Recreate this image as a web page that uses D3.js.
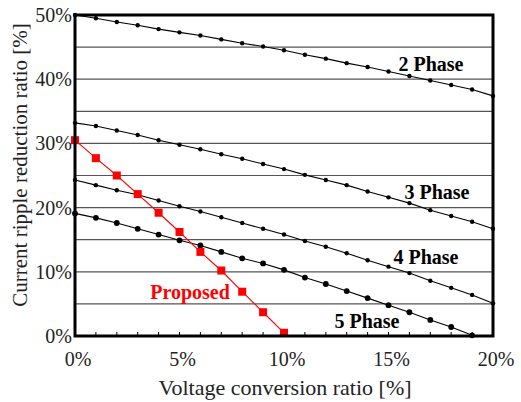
<!DOCTYPE html>
<html>
<head>
<meta charset="utf-8">
<script src="https://cdn.jsdelivr.net/npm/d3@7"></script>
<style>
  body { margin: 0; background: #fff; }
</style>
</head>
<body>
<div id="chart"></div>
<script>
const FWIDTH = 521,
    FHEIGHT = 402;
const FONT = "'Liberation Serif', 'DejaVu Serif', serif";

// voltage conversion ratio [%]
const ratio = [0, 1, 2, 3, 4, 5, 6, 7, 8, 9, 10, 11, 12, 13, 14, 15, 16, 17, 18, 19, 20];

// current ripple reduction ratio [%]
const phase2 = [50.0, 49.5, 48.9, 48.4, 47.8, 47.3, 46.8, 46.2, 45.6, 45.1, 44.5,
    43.8, 43.2, 42.5, 41.9, 41.2, 40.5, 39.8, 39.1, 38.4, 37.4];
const phase3 = [33.2, 32.7, 32.0, 31.3, 30.5, 29.8, 29.1, 28.3, 27.6, 26.8, 26.0,
    25.1, 24.3, 23.5, 22.5, 21.6, 20.7, 19.6, 18.7, 17.8, 16.7];
const phase4 = [24.3, 23.5, 22.7, 22.0, 21.1, 20.2, 19.4, 18.5, 17.6, 16.7, 15.8,
    14.8, 13.9, 12.9, 11.8, 10.8, 9.8, 8.6, 7.5, 6.4, 5.1];
const phase5 = [19.1, 18.4, 17.6, 16.7, 15.8, 14.9, 14.1, 13.1, 12.1, 11.3, 10.3,
    9.1, 8.1, 7.0, 5.9, 4.8, 3.7, 2.5, 1.4, 0.1];
const proposed = [30.5, 27.7, 25.0, 22.1, 19.2, 16.2, 13.1, 10.2, 6.9, 3.7, 0.5];

const xTicks = [0, 5, 10, 15, 20];
const yTicks = [0, 10, 20, 30, 40, 50];
const yGrid = [5, 10, 15, 20, 25, 30, 35, 40, 45];

const x = d3.scaleLinear().domain([0, 20]).range([75, 493]);
const y = d3.scaleLinear().domain([0, 50]).range([336, 15]);

const svg = d3.select("#chart")
    .append("svg")
    .attr("width", FWIDTH)
    .attr("height", FHEIGHT)
    .attr("font-family", FONT);

// grid
svg.append("g")
    .selectAll("line")
    .data(yGrid)
    .join("line")
    .attr("x1", x(0))
    .attr("x2", x(20))
    .attr("y1", d => y(d))
    .attr("y2", d => y(d))
    .attr("stroke", "#555")
    .attr("stroke-width", 1.2);

// minor ticks along the bottom, every 1%
svg.append("g")
    .selectAll("line")
    .data(ratio)
    .join("line")
    .attr("x1", d => x(d))
    .attr("x2", d => x(d))
    .attr("y1", y(0))
    .attr("y2", y(0) - 4)
    .attr("stroke", "#000")
    .attr("stroke-width", 1);

const line = d3.line()
    .x((d, i) => x(ratio[i]))
    .y(d => y(d));

const series = [
    { vals: phase2, r: 2.2 },
    { vals: phase3, r: 2.2 },
    { vals: phase4, r: 2.2 },
    { vals: phase5, r: 2.9 }
];

series.forEach(s => {
    svg.append("path")
        .datum(s.vals)
        .attr("d", line)
        .attr("fill", "none")
        .attr("stroke", "#000")
        .attr("stroke-width", 1.1);
    svg.append("g")
        .selectAll("circle")
        .data(s.vals)
        .join("circle")
        .attr("cx", (d, i) => x(ratio[i]))
        .attr("cy", d => y(d))
        .attr("r", s.r)
        .attr("fill", "#000");
});

// proposed
svg.append("path")
    .datum(proposed)
    .attr("d", line)
    .attr("fill", "none")
    .attr("stroke", "#ff0000")
    .attr("stroke-width", 1.1);

svg.append("g")
    .selectAll("rect")
    .data(proposed)
    .join("rect")
    .attr("x", (d, i) => x(ratio[i]) - 4)
    .attr("y", d => y(d) - 4)
    .attr("width", 8)
    .attr("height", 8)
    .attr("fill", "#ff0000");

// frame
svg.append("rect")
    .attr("x", x(0))
    .attr("y", y(50))
    .attr("width", x(20) - x(0))
    .attr("height", y(0) - y(50))
    .attr("fill", "none")
    .attr("stroke", "#000")
    .attr("stroke-width", 3);

// tick labels
svg.append("g")
    .selectAll("text")
    .data(yTicks)
    .join("text")
    .text(d => d + "%")
    .attr("x", 72)
    .attr("y", d => y(d) + 7)
    .attr("text-anchor", "end")
    .attr("font-size", "20px")
    .attr("fill", "#222");

svg.append("g")
    .selectAll("text")
    .data(xTicks)
    .join("text")
    .text(d => d + "%")
    .attr("x", d => x(d) + 3)
    .attr("y", 366)
    .attr("text-anchor", "middle")
    .attr("font-size", "20px")
    .attr("fill", "#222");

// axis titles
svg.append("text")
    .text("Voltage conversion ratio [%]")
    .attr("x", 285)
    .attr("y", 395)
    .attr("text-anchor", "middle")
    .attr("font-size", "22px")
    .attr("fill", "#222");

svg.append("text")
    .text("Current ripple reduction ratio [%]")
    .attr("transform", "translate(27,165) rotate(-90)")
    .attr("text-anchor", "middle")
    .attr("font-size", "21px")
    .attr("fill", "#222");

// series labels
const labels = [
    { t: "2 Phase", x: 431, y: 71, c: "#000" },
    { t: "3 Phase", x: 437, y: 199, c: "#000" },
    { t: "4 Phase", x: 426, y: 264, c: "#000" },
    { t: "5 Phase", x: 367, y: 328, c: "#000" },
    { t: "Proposed", x: 190, y: 299, c: "#ff0000" }
];

svg.append("g")
    .selectAll("text")
    .data(labels)
    .join("text")
    .text(d => d.t)
    .attr("x", d => d.x)
    .attr("y", d => d.y)
    .attr("text-anchor", "middle")
    .attr("font-size", "20px")
    .attr("font-weight", "bold")
    .attr("fill", d => d.c);
</script>
</body>
</html>
